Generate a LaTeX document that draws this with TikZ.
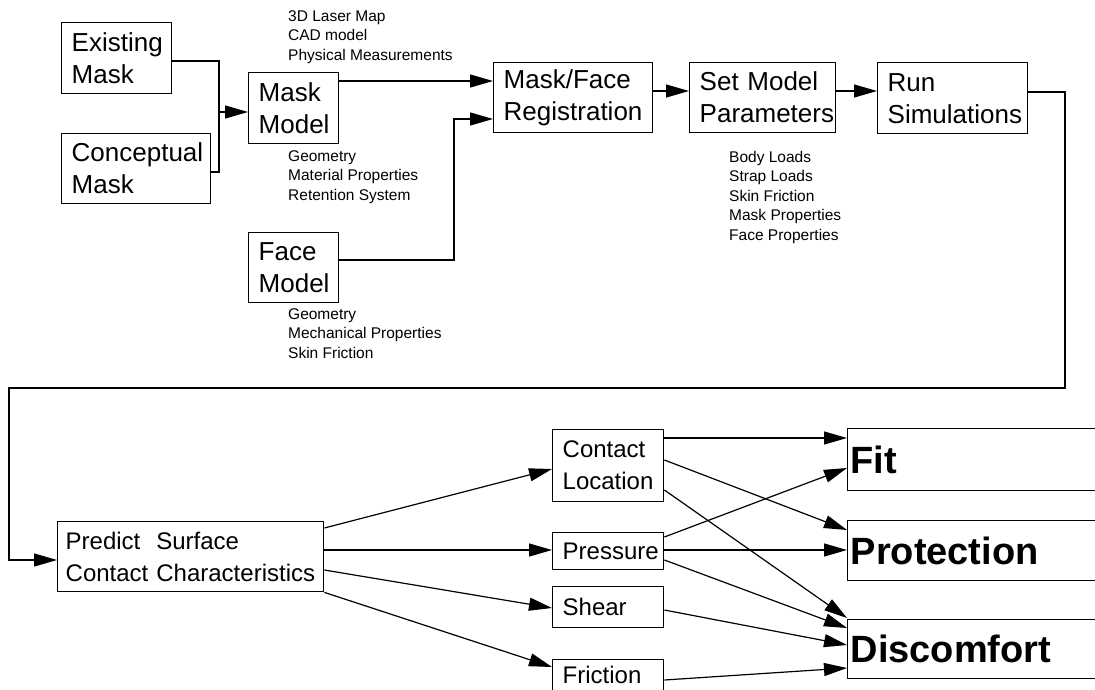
\documentclass[tikz,border=0pt]{standalone}
\usepackage{fontspec}
\setmainfont{Liberation Sans}
\usetikzlibrary{arrows.meta}
\hyphenpenalty=10000
\exhyphenpenalty=10000

\tikzset{
  box/.style={draw, line width=1.4pt, anchor=north west, align=left, inner xsep=10pt, inner ysep=0pt, font=\fontsize{26}{32}\selectfont},
  sbox/.style={box, font=\fontsize{24}{32}\selectfont},
  bbox/.style={box, inner xsep=3pt, font=\fontsize{38}{44}\selectfont\bfseries},
  note/.style={anchor=north west, align=left, inner sep=0pt, font=\fontsize{15.5}{19.5}\selectfont},
  link/.style={line width=1.2pt},
  arr/.style={link, -{Triangle[length=23pt,width=13pt]}}
}

\begin{document}
\begin{tikzpicture}[x=1pt,y=-1pt]
\clip (0,0) rectangle (1095,690);
\fill[white] (0,0) rectangle (1095,690);

% model building
\node[box, text width=90pt, minimum height=71pt] (em) at (61,22) {Existing\\Mask};
\node[box, text width=129pt, minimum height=70pt] (cc) at (61,133) {Conceptual\\Mask};
\node[box, text width=70pt, minimum height=71pt] (mm) at (248,72) {Mask\\Model};
\node[box, text width=70pt, minimum height=70pt] (fm) at (248,232) {Face\\Model};
\node[box, text width=139pt, minimum height=70pt] (mfr) at (493,62) {Mask/Face\\Registration};
\node[box, text width=126pt, minimum height=70pt] (smp) at (689,62) {Set Model\\Parameters};
\node[box, text width=130pt, minimum height=71pt] (rs) at (877,62) {Run\\Simulations};

\node[note] (mmin) at (288,10) {3D Laser Map\\CAD model\\Physical Measurements};
\node[note] (mmprop) at (288,150) {Geometry\\Material Properties\\Retention System};
\node[note] (fmprop) at (288,308) {Geometry\\Mechanical Properties\\Skin Friction};
\node[note] (smprop) at (729,151) {Body Loads\\Strap Loads\\Skin Friction\\Mask Properties\\Face Properties};

% contact results
\node[sbox, inner xsep=8pt, text width=250pt, minimum height=70pt] (psc) at (57,521) {Predict\ \ Surface\\Contact Characteristics};
\node[sbox, text width=91pt, minimum height=72pt] (cl) at (552,429) {Contact\\Location};
\node[sbox, text width=91pt, minimum height=37pt] (pr) at (552,532) {Pressure};
\node[sbox, text width=91pt, minimum height=41pt] (sh) at (552,586) {Shear};
\node[sbox, text width=91pt, minimum height=38pt, text depth=8pt] (fr) at (552,659) {Friction};

\node[bbox, text width=247pt, minimum height=62pt] (fit) at (847,428) {Fit};
\node[bbox, text width=247pt, minimum height=60pt] (prot) at (847,520) {Protection};
\node[bbox, text width=247pt, minimum height=59pt] (dis) at (847,619) {Discomfort};

\coordinate (jn) at (219,112);
\coordinate (fj) at (454,119);
\coordinate (rt) at (1065,388);
\coordinate (lt) at (9,388);

\draw[link] (em.east |- 0,61) -| (jn) |- (cc.east |- 0,172);
\draw[arr] (jn) -- (mm.west |- jn);
\draw[arr] (mm.east |- 0,81) -- (mfr.west |- 0,81);
\draw[arr] (fm.east |- 0,260) -| (fj) -- (mfr.west |- fj);
\draw[arr] (mfr.east |- 0,91) -- (smp.west |- 0,91);
\draw[arr] (smp.east |- 0,91) -- (rs.west |- 0,91);
\draw[arr] (rs.east |- 0,92) -| (rt) -- (lt) |- (psc.west |- 0,560);

\draw[arr] (psc.east |- 0,528) -- (cl.west |- 0,469);
\draw[arr] (psc.east |- 0,550) -- (pr.west |- 0,550);
\draw[arr] (psc.east |- 0,570) -- (sh.west |- 0,608);
\draw[arr] (psc.south east) -- (fr.west |- 0,667);

\draw[arr] (cl.east |- 0,438) -- (fit.west |- 0,438);
\draw[arr] (cl.east |- 0,460) -- (prot.west |- 0,530);
\draw[arr] (cl.east |- 0,490) -- (dis.west |- 0,618);
\draw[arr] (pr.east |- 0,537) -- (fit.west |- 0,468);
\draw[arr] (pr.east |- 0,550) -- (prot.west |- 0,550);
\draw[arr] (pr.east |- 0,560) -- (dis.west |- 0,628);
\draw[arr] (sh.east |- 0,610) -- (dis.west |- 0,645);
\draw[arr] (fr.east |- 0,680) -- (dis.west |- 0,668);
\end{tikzpicture}
\end{document}
